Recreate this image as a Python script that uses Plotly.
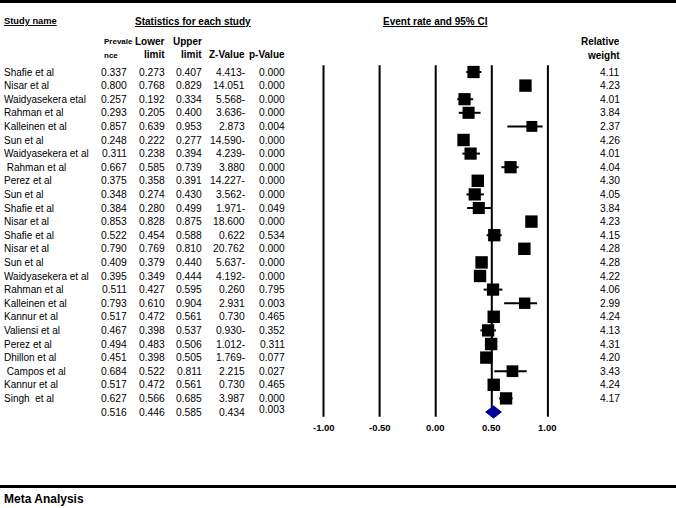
import plotly.graph_objects as go

# study-level data
study_names = ["Shafie et al", "Nisar et al", "Waidyasekera etal", "Rahman et al", "Kalleinen et al",
               "Sun et al", "Waidyasekera et al", "\u00a0Rahman et al", "Perez et al", "Sun et al",
               "Shafie et al", "Nisar et al", "Shafie et al", "Nisar et al", "Sun et al",
               "Waidyasekera et al", "Rahman et al", "Kalleinen et al", "Kannur et al", "Valiensi et al",
               "Perez et al", "Dhillon et al", "\u00a0Campos et al", "Kannur et al", "Singh\u00a0\u00a0et al"]
prevalence = [0.337, 0.800, 0.257, 0.293, 0.857, 0.248, 0.311, 0.667, 0.375, 0.348, 0.384, 0.853, 0.522,
              0.790, 0.409, 0.395, 0.511, 0.793, 0.517, 0.467, 0.494, 0.451, 0.684, 0.517, 0.627]
lower = [0.273, 0.768, 0.192, 0.205, 0.639, 0.222, 0.238, 0.585, 0.358, 0.274, 0.280, 0.828, 0.454,
         0.769, 0.379, 0.349, 0.427, 0.610, 0.472, 0.398, 0.483, 0.398, 0.522, 0.472, 0.566]
upper = [0.407, 0.829, 0.334, 0.400, 0.953, 0.277, 0.394, 0.739, 0.391, 0.430, 0.499, 0.875, 0.588,
         0.810, 0.440, 0.444, 0.595, 0.904, 0.561, 0.537, 0.506, 0.505, 0.811, 0.561, 0.685]
z_values = ["4.413-", "14.051", "5.568-", "3.636-", "2.873", "14.590-", "4.239-", "3.880", "14.227-",
            "3.562-", "1.971-", "18.600", "0.622", "20.762", "5.637-", "4.192-", "0.260", "2.931",
            "0.730", "0.930-", "1.012-", "1.769-", "2.215", "0.730", "3.987"]
p_values = ["0.000", "0.000", "0.000", "0.000", "0.004", "0.000", "0.000", "0.000", "0.000", "0.000",
            "0.049", "0.000", "0.534", "0.000", "0.000", "0.000", "0.795", "0.003", "0.465", "0.352",
            "0.311", "0.077", "0.027", "0.465", "0.000"]
rel_weight = [4.11, 4.23, 4.01, 3.84, 2.37, 4.26, 4.01, 4.04, 4.30, 4.05, 3.84, 4.23, 4.15, 4.28, 4.28,
              4.22, 4.06, 2.99, 4.24, 4.13, 4.31, 4.20, 3.43, 4.24, 4.17]

# pooled estimate
pooled = {"est": 0.516, "lo": 0.446, "hi": 0.585, "z": "0.434", "p": "0.003"}

tick_vals = [-1.0, -0.5, 0.0, 0.5, 1.0]
tick_text = ["-1.00", "-0.50", "0.00", "0.50", "1.00"]

W, H = 676, 508
FONT = "Arial, Liberation Sans, sans-serif"
n = len(study_names)
rows = list(range(n))
pool_row = n

# right edges (px) of the numeric columns
COL_PREV, COL_LO, COL_HI, COL_Z, COL_P, COL_W = 129, 167, 204, 247, 287, 622


def px(x):
    return x / W


def py(y):
    return 1 - y / H


fig = go.Figure()

# vertical reference lines
lx, ly = [], []
for t in tick_vals:
    lx += [t, t, None]
    ly += [-0.5, 25.35, None]
fig.add_trace(go.Scatter(x=lx, y=ly, mode="lines", line=dict(color="black", width=2),
                         hoverinfo="skip", showlegend=False))

# study squares with CI
fig.add_trace(go.Scatter(
    x=prevalence, y=rows, mode="markers",
    marker=dict(symbol="square", color="black", size=[9 + 0.8 * w for w in rel_weight],
                opacity=1, line=dict(width=0)),
    error_x=dict(type="data", symmetric=False,
                 array=[u - e for u, e in zip(upper, prevalence)],
                 arrayminus=[e - l for e, l in zip(prevalence, lower)],
                 color="black", thickness=2, width=0),
    showlegend=False))

# pooled diamond
fig.add_trace(go.Scatter(
    x=[pooled["lo"], pooled["est"], pooled["hi"], pooled["est"], pooled["lo"]],
    y=[pool_row, pool_row - 0.45, pool_row, pool_row + 0.45, pool_row],
    mode="lines", fill="toself", fillcolor="#000099", line=dict(color="#000099", width=1),
    showlegend=False))

ann = []


def txt(x, y, s, size=10.3, bold=False, anchor="left", yref="y"):
    ann.append(dict(x=x, y=y, xref="paper", yref=yref, text=f"<b>{s}</b>" if bold else s,
                    showarrow=False, xanchor=anchor, yanchor="middle",
                    font=dict(family=FONT, size=size, color="black")))


# table body
for i in rows:
    txt(px(2), i, study_names[i], size=10)
    txt(px(COL_PREV), i, f"{prevalence[i]:.3f}", anchor="right")
    txt(px(COL_LO), i, f"{lower[i]:.3f}", anchor="right")
    txt(px(COL_HI), i, f"{upper[i]:.3f}", anchor="right")
    txt(px(COL_Z), i, z_values[i], anchor="right")
    txt(px(COL_P), i, p_values[i], anchor="right")
    txt(px(COL_W), i, f"{rel_weight[i]:.2f}", anchor="right")

txt(px(COL_PREV), pool_row, f"{pooled['est']:.3f}", anchor="right")
txt(px(COL_LO), pool_row, f"{pooled['lo']:.3f}", anchor="right")
txt(px(COL_HI), pool_row, f"{pooled['hi']:.3f}", anchor="right")
txt(px(COL_Z), pool_row, pooled["z"], anchor="right")
txt(px(COL_P), pool_row - 0.15, pooled["p"], anchor="right")

# headers
txt(px(2), py(21), "<u>Study name</u>", size=9.3, bold=True, yref="paper")
txt(px(193), py(21), "<u>Statistics for each study</u>", size=10, bold=True, anchor="center", yref="paper")
txt(px(435.7), py(21), "<u>Event rate and 95% CI</u>", size=10, bold=True, anchor="center", yref="paper")
txt(px(102), py(42), "Prevale", size=8, bold=True, yref="paper")
txt(px(102), py(55), "nce", size=8, bold=True, yref="paper")
txt(px(167), py(42), "Lower", size=10, bold=True, anchor="right", yref="paper")
txt(px(167), py(54), "limit", size=10, bold=True, anchor="right", yref="paper")
txt(px(204), py(42), "Upper", size=10, bold=True, anchor="right", yref="paper")
txt(px(204), py(54), "limit", size=10, bold=True, anchor="right", yref="paper")
txt(px(247), py(54), "Z-Value", size=10, bold=True, anchor="right", yref="paper")
txt(px(287), py(54), "p-Value", size=10, bold=True, anchor="right", yref="paper")
txt(px(622), py(42), "Relative", size=10, bold=True, anchor="right", yref="paper")
txt(px(622), py(55), "weight", size=10, bold=True, anchor="right", yref="paper")
txt(px(2), py(499), "Meta Analysis", size=12, bold=True, yref="paper")

# axis tick labels
for t, s in zip(tick_vals, tick_text):
    ann.append(dict(x=t, y=py(427), xref="x", yref="paper", text=f"<b>{s}</b>", showarrow=False,
                    xanchor="center", yanchor="middle",
                    font=dict(family=FONT, size=9.5, color="black")))

shapes = [
    dict(type="line", xref="paper", yref="paper", x0=0, x1=1, y0=py(1.5), y1=py(1.5),
         line=dict(color="black", width=3)),
    dict(type="line", xref="paper", yref="paper", x0=0, x1=1, y0=py(486.5), y1=py(486.5),
         line=dict(color="black", width=3)),
]

# map data units onto pixels: x=0 at 435.7px, 112.2px per unit; row 0 at 72px, 13.6px per row
x0_px, x_scale = 435.7, 112.2
y0_px, y_scale = 72.0, 13.6
fig.update_layout(
    width=W, height=H, margin=dict(l=0, r=0, t=0, b=0),
    paper_bgcolor="white", plot_bgcolor="white",
    xaxis=dict(range=[-x0_px / x_scale, (W - x0_px) / x_scale], visible=False, fixedrange=True),
    yaxis=dict(range=[(H - y0_px) / y_scale, -y0_px / y_scale], visible=False, fixedrange=True),
    annotations=ann, shapes=shapes,
)

# drop the browser's default body margin so the figure sits at the page origin
fig.write_html("out.html", config={"displayModeBar": False},
               post_script="document.body.style.margin='0';")
